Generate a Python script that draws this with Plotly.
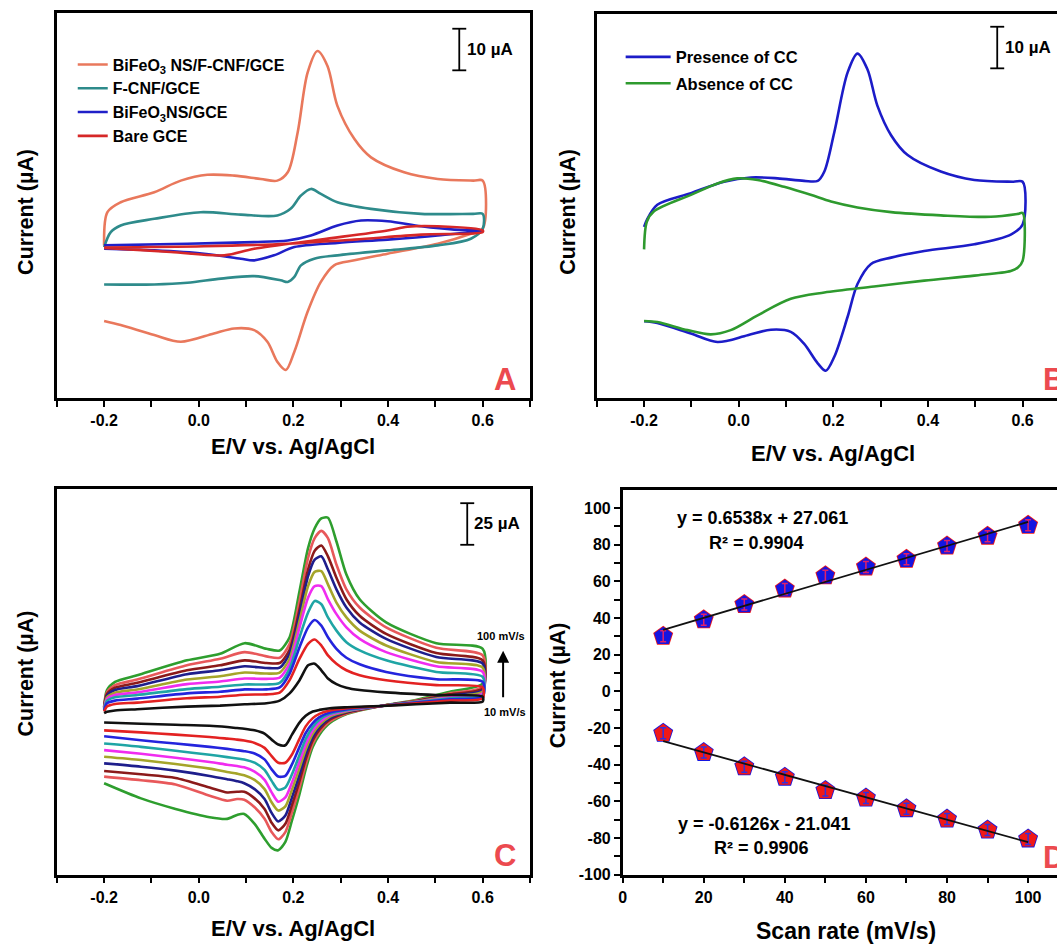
import plotly.graph_objects as go

W, H = 1057, 951
def px(x): return x / W
def py(y): return 1 - y / H

FONT = "Liberation Sans, Arial, sans-serif"
LETTER = "#EC4A4F"

# ---------------- Panel A data (E / V, I / uA) ----------------
A_bfo_fcnf_E = [-0.2, -0.193, -0.165, -0.094, -0.038, 0.018, 0.075, 0.131, 0.166, 0.188, 0.209, 0.230, 0.251, 0.272,
                0.293, 0.329, 0.364, 0.434, 0.505, 0.58, 0.6, 0.6, 0.575, 0.505, 0.399, 0.329, 0.286, 0.258, 0.230,
                0.202, 0.184, 0.166, 0.145, 0.117, 0.075, 0.032, -0.038, -0.094, -0.165, -0.2]
A_bfo_fcnf_I = [0, 8.0, 10.4, 12.8, 15.6, 17.0, 16.8, 16.0, 15.6, 17.6, 27.2, 41.6, 46.8, 43.2, 33.6, 25.6, 21.2,
                17.6, 16.0, 15.6, 15.6, 4.0, 2.8, 0.4, -2.0, -3.6, -4.8, -8.8, -16, -25.6, -30, -28, -23.2, -20.4,
                -20, -21.2, -23.2, -21.6, -19.2, -18.2]
A_fcnf_E = [-0.2, -0.186, -0.165, -0.094, 0.004, 0.089, 0.166, 0.194, 0.216, 0.237, 0.258, 0.293, 0.364, 0.47, 0.58,
            0.6, 0.6, 0.575, 0.505, 0.399, 0.293, 0.244, 0.216, 0.202, 0.188, 0.173, 0.117, 0.047, -0.024, -0.094, -0.2]
A_fcnf_I = [-0.4, 3.2, 4.8, 6.4, 8.0, 7.4, 7.2, 8.8, 12, 13.6, 12.4, 10.4, 8.8, 7.6, 7.6, 7.6, 4.0, 1.6, 0, -1.2,
            -2.4, -3.2, -4.8, -7.6, -8.8, -8.4, -7.4, -8, -9, -9.4, -9.4]
A_bfo_E = [-0.2, -0.024, 0.117, 0.188, 0.237, 0.293, 0.343, 0.399, 0.47, 0.54, 0.6, 0.505, 0.399, 0.293, 0.202,
           0.159, 0.117, 0.089, 0.011, -0.094, -0.2]
A_bfo_I = [0, 0.4, 0.8, 1.2, 2.4, 4.8, 6.0, 5.8, 4.6, 3.8, 3.6, 2.4, 1.4, 0.6, -0.4, -2.4, -3.6, -3.2, -2.0, -1.2, -0.8]
A_bare_E = [-0.2, -0.059, 0.054, 0.117, 0.258, 0.399, 0.441, 0.505, 0.6, 0.6, 0.47, 0.329, 0.188, 0.011, -0.2]
A_bare_I = [-0.6, -1.6, -2.4, -0.8, 1.4, 3.6, 4.5, 4.6, 3.6, 3.2, 2.6, 1.4, 0.4, -0.2, -0.5]

# ---------------- Panel B data ----------------
B_pres_E = [-0.2, -0.194, -0.172, -0.101, -0.031, 0.026, 0.082, 0.138, 0.167, 0.181, 0.202, 0.230, 0.251, 0.272, 0.293,
            0.322, 0.357, 0.427, 0.498, 0.58, 0.6, 0.6, 0.575, 0.498, 0.392, 0.322, 0.279, 0.251, 0.230, 0.202, 0.184,
            0.167, 0.138, 0.110, 0.068, 0.019, -0.045, -0.101, -0.172, -0.2]
B_pres_I = [1.0, 2.7, 6.25, 9.0, 11.7, 12.7, 12.5, 11.9, 11.9, 14.1, 23.4, 37.5, 42.0, 38.3, 29.7, 22.7, 18.0, 14.1,
            12.1, 11.7, 11.7, 1.6, -0.8, -3.1, -4.7, -6.25, -7.8, -12.5, -20.3, -29.7, -33.0, -31.25, -26.6, -23.8,
            -23.3, -24.6, -26.2, -24.2, -21.7, -21.3]
B_abs_E = [-0.2, -0.194, -0.179, -0.101, -0.045, -0.003, 0.040, 0.096, 0.152, 0.195, 0.251, 0.322, 0.427, 0.533, 0.59,
           0.6, 0.6, 0.59, 0.575, 0.498, 0.392, 0.286, 0.181, 0.110, 0.040, -0.017, -0.059, -0.108, -0.172, -0.2]
B_abs_I = [-4.3, 2.3, 4.7, 8.6, 11.3, 12.5, 12.1, 10.5, 8.6, 7.0, 5.6, 4.5, 3.75, 3.4, 4.1, 4.3, -7.0, -8.6, -9.4,
           -10.5, -11.7, -13.1, -14.5, -16.0, -19.9, -23.4, -24.4, -23.4, -21.5, -21.25]

# ---------------- Panel C data (10 -> 100 mV/s) ----------------
C_rates = ["10 mV/s", "20 mV/s", "30 mV/s", "40 mV/s", "50 mV/s", "60 mV/s", "70 mV/s", "80 mV/s", "90 mV/s", "100 mV/s"]
C_colors = ["#111111", "#E32222", "#2424DD", "#1FA5A5", "#F02CF0", "#A5A52A", "#1E1E8C", "#8B1A1A", "#E8585A", "#2E9E2E"]
C_E_fwd = [-0.2, -0.194, -0.177, -0.13, -0.025, 0.045, 0.097, 0.143, 0.171, 0.192, 0.213, 0.231, 0.245, 0.259, 0.273,
           0.291, 0.312, 0.34, 0.396, 0.502, 0.6]
C_I_fwd = [
    [-12, -11.2, -10.4, -9.6, -8, -7.4, -6.6, -6, -4.4, 0, 8, 17, 18, 14, 9, 5.6, 3.4, 2, 0.6, -1, -2],
    [-11, -8, -6.4, -5.6, -3, -2, -0.8, -0.6, 0.4, 8, 21, 30, 32.6, 29, 23, 18, 14, 11, 8, 5, 3.6],
    [-10.4, -6, -4.4, -3.2, 0, 1, 2.4, 2.4, 3.6, 12, 28, 40, 44.4, 41, 34, 27, 21.6, 17.6, 13, 8.6, 7],
    [-10, -4.6, -2.4, -1, 2.6, 4, 5.4, 5.4, 6.4, 15, 34, 49, 56, 54, 46, 38, 31, 26, 20, 13, 10],
    [-9.6, -3.4, -1, 0.6, 5.6, 7.2, 9, 8.8, 9.6, 18, 40, 58, 65, 65, 57, 48, 40, 33, 25, 16.4, 13],
    [-9.2, -2.4, 0.4, 2.4, 8.4, 10.4, 12.6, 12, 12.6, 21, 44, 65, 73.6, 74, 66, 55, 46, 38, 29, 19, 15.6],
    [-8.8, -1.4, 2, 4.4, 11.6, 14, 16.4, 15.4, 15.6, 24, 48, 71, 81, 83, 75, 63, 52, 43, 33, 22, 18],
    [-8.4, -0.4, 3.4, 6.4, 14, 17, 20, 18.4, 18.4, 26.4, 51, 75, 86.4, 89.6, 83, 70, 57, 47, 36, 24.4, 20],
    [-8, 0.6, 5, 8.4, 17, 21, 25, 22.4, 21.6, 30, 56, 82, 94, 98.4, 94, 78, 63, 52, 40, 27.6, 23],
    [-8, 2, 7, 11, 20, 24, 30.4, 27, 26, 34, 62, 88, 100, 106, 106.4, 92, 72, 57, 43, 30.4, 27],
]
C_E_rev = [0.6, 0.531, 0.459, 0.386, 0.314, 0.277, 0.255, 0.241, 0.226, 0.212, 0.197, 0.183, 0.168, 0.154, 0.139,
           0.118, 0.096, 0.081, 0.06, 0.023, -0.049, -0.122, -0.2]
C_I_rev = [
    [-5, -5.6, -6.6, -7.6, -8.4, -9, -10, -11, -13.6, -18, -25, -31.4, -31, -28, -24.4, -22.4, -21.4, -21, -20.4, -19.6, -19, -18.4, -17.6],
    [-3, -4.4, -6, -7.6, -9, -10.4, -12.4, -15, -20, -28, -37, -42, -42, -38, -33, -30, -28.6, -28, -27.4, -26.4, -25, -23.6, -22.4],
    [-2, -3.6, -5.6, -7.6, -9.6, -11.6, -14.4, -18, -24, -33, -43, -50, -50.4, -46, -40, -36.4, -35, -34.4, -33.6, -32.4, -30.4, -28.4, -26],
    [-1, -3, -5.4, -7.6, -10, -12.4, -16, -20.4, -27.6, -38, -49, -57, -58.4, -53, -46.4, -42, -40, -39.4, -38.6, -37.2, -34.8, -32.4, -30.4],
    [0, -2.4, -5.2, -7.6, -10.4, -13.2, -17.6, -22.4, -31, -42, -54, -63, -65.6, -60, -52.4, -47.4, -44.8, -44, -43.2, -41.6, -39, -36.6, -34.4],
    [1, -1.8, -5, -7.6, -10.8, -14, -19, -24.4, -34, -46, -58.4, -68.4, -71, -66, -58, -52.4, -49.6, -48.6, -47.6, -45.6, -42.8, -40.4, -38.4],
    [2, -1.2, -4.8, -7.6, -11.2, -15, -20.4, -26.4, -37, -50, -63, -74, -77.6, -72.4, -64, -58, -54.4, -53.2, -52, -50, -46.8, -44.4, -42.4],
    [3, -0.6, -4.6, -7.6, -11.6, -16, -22, -28.4, -40, -54, -67.6, -79, -83, -78.4, -70, -63.6, -59.6, -59.6, -60, -57, -51.2, -49, -47],
    [4, 0, -4.4, -7.6, -12, -17, -23.6, -30.4, -43, -58, -72, -84, -88.4, -84, -76, -69, -64.4, -64, -65, -62, -55.2, -52.6, -50.4],
    [6, 1, -4, -7.6, -12.4, -18, -25, -32.4, -46, -62, -77, -90, -95, -93.6, -88, -79, -73, -73.6, -76, -75, -70, -63.6, -54.4],
]

# ---------------- Panel D data ----------------
scan_rate = [10, 20, 30, 40, 50, 60, 70, 80, 90, 100]
Ipa = [30.1, 39.1, 47.4, 55.9, 63.1, 67.9, 72.1, 79.3, 84.7, 90.6]
Ipc = [-22.9, -33.3, -41.1, -46.8, -54.1, -58.2, -64.0, -69.7, -75.7, -80.5]
Ipa_err = [3, 3, 3, 3, 3, 3, 3, 3, 3, 3]
Ipc_err = [3, 3, 3, 3, 3, 3, 3, 3, 3, 3]
fit_pa = (0.6538, 27.061)
fit_pc = (-0.6126, -21.041)
eq_pa = ["y = 0.6538x + 27.061", "R² = 0.9904"]
eq_pc = ["y = -0.6126x - 21.041", "R² = 0.9906"]

fig = go.Figure()

def cv(x, y, color, name, xa, ya, legend=None, width=2.6, smoothing=0.9):
    fig.add_trace(go.Scatter(x=x, y=y, mode="lines", name=name, xaxis=xa, yaxis=ya,
                             line=dict(color=color, width=width, shape="spline", smoothing=smoothing),
                             showlegend=legend is not None, legend=legend or "legend",
                             legendgroup=name, hoverinfo="skip"))

# Panel A
cv(A_bfo_fcnf_E, A_bfo_fcnf_I, "#E9785C", "BiFeO<sub>3</sub> NS/F-CNF/GCE", "x", "y", "legend")
cv(A_fcnf_E, A_fcnf_I, "#2E8B8B", "F-CNF/GCE", "x", "y", "legend")
cv(A_bfo_E, A_bfo_I, "#2020C8", "BiFeO<sub>3</sub>NS/GCE", "x", "y", "legend")
cv(A_bare_E, A_bare_I, "#D62828", "Bare GCE", "x", "y", "legend")

# Panel B
cv(B_pres_E, B_pres_I, "#1C1CC8", "Presence of CC", "x2", "y2", "legend2")
cv(B_abs_E, B_abs_I, "#2E9A2E", "Absence of CC", "x2", "y2", "legend2")

# Panel C
for k in range(len(C_rates) - 1, -1, -1):
    cv(C_E_fwd + C_E_rev, C_I_fwd[k] + C_I_rev[k], C_colors[k], C_rates[k], "x3", "y3", None, 2.6, 0.7)

# Panel D
def fit_line(coef):
    xs = [scan_rate[0], scan_rate[-1]]
    return xs, [coef[0] * v + coef[1] for v in xs]

fx, fy = fit_line(fit_pa)
fig.add_trace(go.Scatter(x=scan_rate, y=Ipa, mode="markers", xaxis="x4", yaxis="y4", showlegend=False,
                         marker=dict(symbol="pentagon", size=21, color="#F01818")))
fig.add_trace(go.Scatter(x=scan_rate, y=Ipa, mode="markers", xaxis="x4", yaxis="y4", showlegend=False,
                         marker=dict(symbol="pentagon", size=19, color="#1515E0")))
fig.add_trace(go.Scatter(x=scan_rate, y=Ipa, mode="markers", xaxis="x4", yaxis="y4", showlegend=False,
                         marker=dict(size=1, color="rgba(0,0,0,0)"),
                         error_y=dict(type="data", array=Ipa_err, color="#E0206A", thickness=1.5, width=3)))
fig.add_trace(go.Scatter(x=fx, y=fy, mode="lines", xaxis="x4", yaxis="y4", showlegend=False,
                         line=dict(color="#111111", width=1.8)))

fx, fy = fit_line(fit_pc)
fig.add_trace(go.Scatter(x=scan_rate, y=Ipc, mode="markers", xaxis="x4", yaxis="y4", showlegend=False,
                         marker=dict(symbol="pentagon", size=21, color="#1515E0")))
fig.add_trace(go.Scatter(x=scan_rate, y=Ipc, mode="markers", xaxis="x4", yaxis="y4", showlegend=False,
                         marker=dict(symbol="pentagon", size=19, color="#F01818")))
fig.add_trace(go.Scatter(x=scan_rate, y=Ipc, mode="markers", xaxis="x4", yaxis="y4", showlegend=False,
                         marker=dict(size=1, color="rgba(0,0,0,0)"),
                         error_y=dict(type="data", array=Ipc_err, color="#3030E0", thickness=1.5, width=3)))
fig.add_trace(go.Scatter(x=fx, y=fy, mode="lines", xaxis="x4", yaxis="y4", showlegend=False,
                         line=dict(color="#111111", width=1.8)))

# ---------------- axes ----------------
tickfont = dict(family=FONT, size=16, color="black", weight="bold")
E_ticks = [-0.2, 0.0, 0.2, 0.4, 0.6]
E_ticktext = ["-0.2", "0.0", "0.2", "0.4", "0.6"]
E_minor = [-0.3, -0.1, 0.1, 0.3, 0.5, 0.7]

def e_axis(domain, anchor, rng, mirror=True):
    return dict(domain=domain, anchor=anchor, range=rng, showgrid=False, zeroline=False,
                showline=True, linewidth=2.5, linecolor="black", mirror=mirror,
                ticks="outside", ticklen=6, tickwidth=2, tickcolor="black",
                tickmode="array", tickvals=E_ticks, ticktext=E_ticktext, tickfont=tickfont,
                minor=dict(tickmode="array", tickvals=E_minor, ticks="outside", ticklen=6, tickwidth=2,
                           tickcolor="black", showgrid=False))

def i_axis(domain, anchor, rng, mirror=True):
    return dict(domain=domain, anchor=anchor, range=rng, showgrid=False, zeroline=False,
                showline=True, linewidth=2.5, linecolor="black", mirror=mirror,
                showticklabels=False, ticks="")

D_xt = [0, 20, 40, 60, 80, 100]
D_yt = [-100, -80, -60, -40, -20, 0, 20, 40, 60, 80, 100]

fig.update_layout(
    width=W, height=H, margin=dict(l=0, r=0, t=0, b=0),
    paper_bgcolor="white", plot_bgcolor="white",
    font=dict(family=FONT, color="black"),
    xaxis=e_axis([px(53), px(528)], "y", [-0.3, 0.7]),
    yaxis=i_axis([py(402), py(13)], "x", [-36.8, 56]),
    xaxis2=e_axis([px(595), 1], "y2", [-0.3, -0.3 + 462 / 475]),
    yaxis2=i_axis([py(402), py(14)], "x2", [-39.5, 51.4], mirror=False),
    xaxis3=e_axis([px(53), px(528)], "y3", [-0.3, 0.7]),
    yaxis3=i_axis([py(883), py(494)], "x3", [-109.8, 123.6]),
    xaxis4=dict(domain=[px(621), 1], anchor="y4", range=[0, 436 / 4.07], showgrid=False, zeroline=False,
                showline=True, linewidth=2.5, linecolor="black", mirror=True,
                ticks="outside", ticklen=6, tickwidth=2, tickcolor="black",
                tickmode="array", tickvals=D_xt, ticktext=[str(v) for v in D_xt], tickfont=tickfont,
                minor=dict(tickmode="array", tickvals=[10, 30, 50, 70, 90], ticks="outside", ticklen=6,
                           tickwidth=2, tickcolor="black")),
    yaxis4=dict(domain=[py(883), py(495)], anchor="x4", range=[-100, 109.7], showgrid=False, zeroline=False,
                showline=True, linewidth=2.5, linecolor="black", mirror=False,
                ticks="outside", ticklen=6, tickwidth=2, tickcolor="black",
                tickmode="array", tickvals=D_yt, ticktext=[str(v) for v in D_yt], tickfont=tickfont,
                minor=dict(tickmode="array", tickvals=[-90, -70, -50, -30, -10, 10, 30, 50, 70, 90],
                           ticks="outside", ticklen=6, tickwidth=2, tickcolor="black")),
    legend=dict(x=px(69), y=py(48), xanchor="left", yanchor="top", bgcolor="rgba(0,0,0,0)",
                font=dict(family=FONT, size=16, color="black", weight="bold"),
                tracegroupgap=0, itemwidth=30),
    legend2=dict(x=px(619), y=py(40), xanchor="left", yanchor="top", bgcolor="rgba(0,0,0,0)",
                 font=dict(family=FONT, size=16.5, color="black", weight="bold"),
                 tracegroupgap=2, itemwidth=45),
)

# ---------------- text annotations ----------------
ann = []
def text(x, y, s, size=18, angle=0, color="black", xanchor="center", yanchor="middle"):
    ann.append(dict(x=px(x), y=py(y), xref="paper", yref="paper", text=s, showarrow=False,
                    textangle=angle, xanchor=xanchor, yanchor=yanchor,
                    font=dict(family=FONT, size=size, color=color, weight="bold")))

# axis titles
text(22, 214, "Current (µA)", 21.5, -90)
text(566, 214, "Current (µA)", 21.5, -90)
text(22, 680, "Current (µA)", 21.5, -90)
text(557, 692, "Current (µA)", 21.5, -90)
text(290, 451, "E/V vs. Ag/AgCl", 22)
text(832, 458, "E/V vs. Ag/AgCl", 22)
text(290, 937, "E/V vs. Ag/AgCl", 22)
text(845, 940, "Scan rate (mV/s)", 23)

# panel letters
text(503, 383, "A", 31, color=LETTER)
text(1054, 383, "B", 31, color=LETTER)
text(503, 864, "C", 31, color=LETTER)
text(1054, 866, "D", 31, color=LETTER)

# scale bar labels
text(463, 50, "10 µA", 17, xanchor="left")
text(1003, 48, "10 µA", 17, xanchor="left")
text(470, 529, "25 µA", 17, xanchor="left")

# panel C scan-rate labels
text(499, 642, "100 mV/s", 11)
text(503, 719, "10 mV/s", 11)
ann.append(dict(x=px(501), y=py(657), xref="paper", yref="paper", text="", showarrow=True,
                ax=0, ay=48, arrowhead=2, arrowsize=1.2, arrowwidth=2, arrowcolor="black"))

# panel D equations (data coordinates)
for (xv, yv, s) in [(34.6, 94.6, eq_pa[0]), (32.9, 81.1, eq_pa[1]), (35.1, -72.4, eq_pc[0]), (34.2, -85.4, eq_pc[1])]:
    ann.append(dict(x=xv, y=yv, xref="x4", yref="y4", text=s, showarrow=False,
                    font=dict(family=FONT, size=18, color="black", weight="bold")))

fig.update_layout(annotations=ann)

# scale bars
shapes = []
for (x, y0, y1) in [(457, 29, 71), (997, 27, 69), (465, 508, 550)]:
    shapes.append(dict(type="line", xref="paper", yref="paper", x0=px(x), x1=px(x), y0=py(y0), y1=py(y1),
                       line=dict(color="black", width=1.8)))
    for yy in (y0, y1):
        shapes.append(dict(type="line", xref="paper", yref="paper", x0=px(x - 7), x1=px(x + 7), y0=py(yy),
                           y1=py(yy), line=dict(color="black", width=1.8)))
fig.update_layout(shapes=shapes)

fig.write_html("out.html")
